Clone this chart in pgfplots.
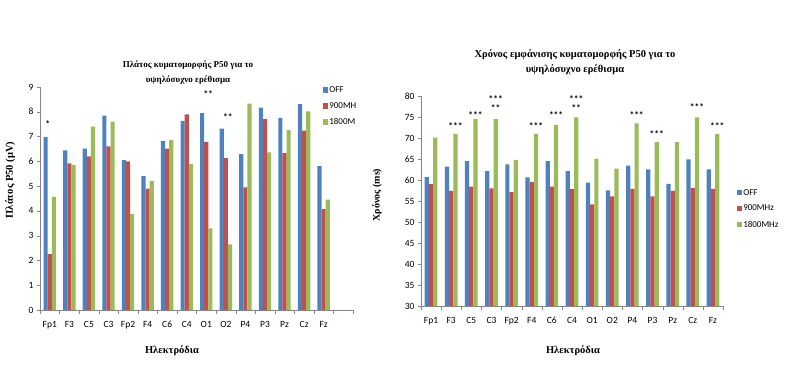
\documentclass[border=0pt]{standalone}
\usepackage{fontspec}
\setmainfont{Liberation Serif}
\newfontfamily\carlito{Carlito}
\usepackage{pgfplots}
\pgfplotsset{compat=1.18}
\usepackage{pgfplotstable}
\definecolor{cOFF}{HTML}{4F81BD}
\definecolor{cMH}{HTML}{C0504D}
\definecolor{cGHz}{HTML}{9BBB59}
\definecolor{axgray}{HTML}{868686}

\pgfplotstableread{
x off mh mhz
0  6.98 2.25 4.57
1  6.44 5.92 5.85
2  6.51 6.20 7.40
3  7.84 6.60 7.60
4  6.05 6.00 3.87
5  5.40 4.90 5.20
6  6.82 6.51 6.86
7  7.63 7.90 5.89
8  7.95 6.79 3.29
9  7.32 6.13 2.65
10 6.29 4.95 8.33
11 8.17 7.70 6.36
12 7.75 6.33 7.26
13 8.31 7.24 8.02
14 5.81 4.07 4.45
}\ampl

\pgfplotstableread{
x off mh mhz
0  60.7 59.0 70.1
1  63.2 57.4 71.0
2  64.5 58.4 74.5
3  62.1 58.0 74.5
4  63.7 57.1 64.8
5  60.6 59.5 71.0
6  64.5 58.4 73.1
7  62.1 57.8 74.9
8  59.4 54.2 65.1
9  57.5 56.1 62.7
10 63.4 57.9 73.5
11 62.5 56.1 69.0
12 59.1 57.4 69.0
13 64.9 58.1 74.9
14 62.5 57.9 71.0
}\lat

\tikzset{stars/.style={font=\carlito\bfseries\fontsize{9.5}{10}\selectfont, inner sep=0pt}}

\pgfplotsset{
  lsq/.style={legend image code/.code={\fill[##1] (0pt,-2.6pt) rectangle (5.2pt,2.6pt);}},
  excel/.style={
    scale only axis,
    axis lines*=left,
    axis line style={-, draw=axgray},
    tick align=outside,
    major tick length=3pt,
    minor tick length=4pt,
    tick style={draw=axgray},
    major x tick style={draw=none},
    minor x tick style={draw=axgray},
    xtick={0,...,14},
    xticklabels={Fp1,F3,C5,C3,Fp2,F4,C6,C4,O1,O2,P4,P3,Pz,Cz,Fz},
    ticklabel style={font=\carlito\fontsize{9.5}{10}\selectfont},
    xticklabel style={yshift=-4.5pt},
    /pgf/number format/assume math mode=true,
    legend style={draw=none, fill=none, font=\carlito\fontsize{9}{10}\selectfont,
      anchor=north west, row sep=6.5pt, inner sep=0pt,
      nodes={inner sep=1pt}},
    legend cell align=left,
  },
  bOFF/.style={ybar, bar width=0.21, bar shift=-0.21, fill=cOFF, draw=none, lsq},
  bMH/.style={ybar, bar width=0.21, bar shift=0, fill=cMH, draw=none, lsq},
  bGHz/.style={ybar, bar width=0.21, bar shift=0.21, fill=cGHz, draw=none, lsq},
}

\begin{document}
\begin{tikzpicture}
\useasboundingbox (0pt,0pt) rectangle (795pt,366pt);

% ---------- left chart ----------
\begin{axis}[excel,
  at={(40pt,56pt)}, anchor=south west,
  width=313pt, height=223pt,
  xmin=-0.5, xmax=15.5, ymin=0, ymax=9,
  ytick={0,...,9},
  minor xtick={-0.5,0.5,...,15.5},
  legend style={at={(rel axis cs:0.904,1.008)}},
]
\addplot[bOFF] table[x=x,y=off]{\ampl};
\addplot[bMH] table[x=x,y=mh]{\ampl};
\addplot[bGHz] table[x=x,y=mhz]{\ampl};
\legend{OFF,900MH,1800M}
\node[stars] at (axis cs:-0.1,7.5) {*};
\node[stars] at (axis cs:8.1,8.7) {**};
\node[stars] at (axis cs:9.1,7.8) {**};
\end{axis}

% ---------- right chart ----------
\begin{axis}[excel,
  at={(421pt,60pt)}, anchor=south west,
  width=302pt, height=210pt,
  xmin=-0.5, xmax=14.5, ymin=30, ymax=80,
  ytick={30,35,...,80},
  minor xtick={-0.5,0.5,...,14.5},
  legend style={at={(rel axis cs:1.046,0.562)}},
]
\addplot[bOFF] table[x=x,y=off]{\lat};
\addplot[bMH] table[x=x,y=mh]{\lat};
\addplot[bGHz] table[x=x,y=mhz]{\lat};
\legend{OFF,900MHz,1800MHz}
\foreach \xx/\yy/\ss in {1/72.9/***,2/75.5/***,3/79.2/***,3/77.1/**,5/72.9/***,6/75.5/***,7/79.2/***,7/77.1/**,10/75.5/***,11/71.0/***,13/77.3/***,14/72.9/***}{
  \edef\temp{\noexpand\node[stars] at (axis cs:\xx+0.21,\yy) {\ss};}
  \temp
}
\end{axis}

% ---------- titles and labels ----------
\node[align=center, font=\bfseries\fontsize{9}{15}\selectfont] at (188pt,293.5pt)
  {Πλάτος κυματομορφής P50 για το\\υψηλόσυχνο ερέθισμα};
\node[align=center, font=\bfseries\fontsize{10.5}{15}\selectfont] at (575pt,303.5pt)
  {Χρόνος εμφάνισης κυματομορφής P50 για το\\υψηλόσυχνο ερέθισμα};
\node[rotate=90, font=\bfseries\fontsize{10.5}{11}\selectfont] at (10pt,186pt) {Πλάτος P50 (μV)};
\node[rotate=90, font=\bfseries\fontsize{10}{11}\selectfont] at (377pt,171pt) {Χρόνος (ms)};
\node[font=\bfseries\fontsize{10.5}{11}\selectfont] at (172pt,15pt) {Ηλεκτρόδια};
\node[font=\bfseries\fontsize{10.5}{11}\selectfont] at (573pt,15pt) {Ηλεκτρόδια};
\end{tikzpicture}
\end{document}
